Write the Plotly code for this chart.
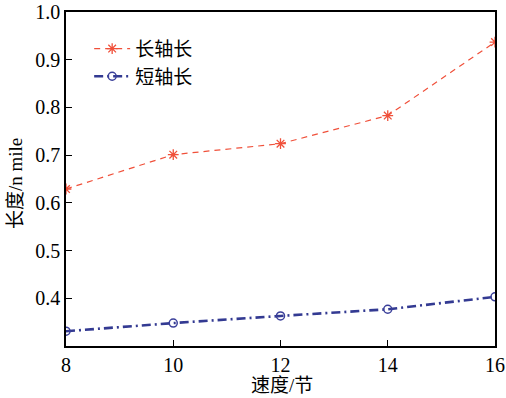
import plotly.graph_objects as go

speed = [8, 10, 12, 14, 16]
major_axis = [0.629, 0.701, 0.724, 0.783, 0.937]
minor_axis = [0.331, 0.348, 0.363, 0.377, 0.403]
y_ticks = [0.4, 0.5, 0.6, 0.7, 0.8, 0.9, 1.0]
name_major = "长轴长"
name_minor = "短轴长"
x_title = "速度/节"
y_title = "长度/n mile"

serif = "Liberation Serif, Noto Sans CJK SC, serif"
cjk = "Noto Sans CJK SC, Liberation Serif"

fig = go.Figure()
fig.add_trace(go.Scatter(
    x=speed, y=major_axis, name=name_major, mode="lines+markers",
    line=dict(color="#f0503a", width=1.2, dash="6px,5px"),
    marker=dict(symbol="asterisk-open", size=9, line=dict(color="#e8332a", width=1.3)),
))
fig.add_trace(go.Scatter(
    x=speed, y=minor_axis, name=name_minor, mode="lines+markers",
    line=dict(color="#333a92", width=2.6, dash="9px,4px,2px,4px"),
    marker=dict(symbol="circle-open", size=8, color="#3a3f9a", line=dict(color="#3a3f9a", width=1.5)),
))

fig.update_layout(
    width=506, height=398,
    margin=dict(l=66, r=11, t=12, b=52, autoexpand=False),
    paper_bgcolor="white", plot_bgcolor="white",
    font=dict(family=serif, size=20, color="black"),
    showlegend=True,
    hovermode=False,
    legend=dict(x=0.054, y=0.947, xanchor="left", yanchor="top",
                bgcolor="rgba(0,0,0,0)", font=dict(size=19, family=cjk),
                tracegroupgap=0, itemwidth=36),
    annotations=[
        dict(text=y_title, xref="paper", yref="paper", x=0, y=0.5, xanchor="center", yanchor="middle",
             xshift=-51, yshift=-5, textangle=-90, showarrow=False, font=dict(family=serif, size=19)),
        dict(text=x_title, xref="paper", yref="paper", x=0.503, y=0, xanchor="center", yanchor="middle",
             yshift=-39, showarrow=False, font=dict(family=serif, size=19)),
    ],
)
fig.update_xaxes(
    range=[8, 16], tickvals=speed, ticks="inside", ticklen=6, tickcolor="black",
    showline=True, linecolor="black", linewidth=1.5, mirror=True, showgrid=False, zeroline=False,
    automargin=False, tickfont=dict(size=20), ticklabeloverflow="allow",
)
fig.update_yaxes(
    range=[0.3, 1.0], tickvals=y_ticks, tickformat=".1f",
    ticks="inside", ticklen=6, tickcolor="black",
    showline=True, linecolor="black", linewidth=1.5, mirror=True, showgrid=False, zeroline=False,
    automargin=False, tickfont=dict(size=20), ticklabeloverflow="allow",
)
fig.write_html("out.html", config={"displayModeBar": False},
               post_script="document.body.style.margin='0px';")
